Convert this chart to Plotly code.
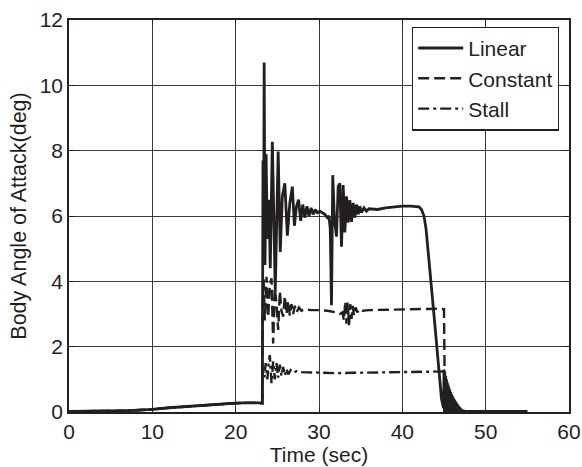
import plotly.graph_objects as go

# shared pre-jump segment (all three runs coincide)
t_pre = [0, 2, 5, 7, 8.5, 10, 12, 15, 17, 19, 20, 21, 22, 22.8, 23.15]
v_pre = [0.02, 0.02, 0.03, 0.04, 0.06, 0.08, 0.13, 0.19, 0.22, 0.25, 0.27, 0.28, 0.29, 0.28, 0.27]

t_linear = [23.20, 23.28, 23.35, 23.42, 23.52, 23.65, 23.80, 24.00, 24.15, 24.40, 24.75, 25.10,
            25.35, 25.60, 25.90, 26.20, 26.50, 26.80, 27.05, 27.30, 27.55, 27.80, 28.05, 28.30,
            28.55, 28.80, 29.05, 29.30, 29.55, 29.80, 30.10, 30.40, 30.70, 31.00, 31.20, 31.35,
            31.50, 31.65, 31.85, 32.10, 32.30, 32.50, 32.70, 32.90, 33.10, 33.30, 33.50, 33.70,
            33.90, 34.10, 34.30, 34.50, 34.70, 34.90, 35.10, 35.40, 35.70, 36.00, 37.0, 38.0,
            39.0, 40.0, 41.0, 42.0, 42.3, 42.6, 42.85, 43.1, 43.5, 44.0, 44.4, 44.7, 44.95,
            45.00, 45.05, 45.10, 45.15, 45.20, 45.25, 45.30, 45.35, 45.40, 45.45, 45.50, 45.55,
            45.60, 45.65, 45.70, 45.75, 45.80, 45.85, 45.90, 45.95, 46.00, 46.05, 46.10, 46.15,
            46.20, 46.25, 46.30, 46.35, 46.40, 46.45, 46.50, 46.55, 46.60, 46.65, 46.70, 46.75,
            46.80, 46.85, 46.90, 46.95, 47.00, 47.05, 47.10, 47.15, 47.20, 47.25, 47.30, 47.35,
            47.40, 47.50, 48.0, 50.0, 52.0, 55.0]
v_linear = [0.27, 7.7, 4.8, 10.7, 4.5, 7.9, 5.3, 6.5, 4.4, 8.27, 3.7, 7.97,
            4.9, 6.6, 7.0, 5.4, 6.4, 6.9, 5.7, 6.3, 6.5, 5.85, 6.35, 5.95,
            6.3, 6.0, 6.25, 6.05, 6.2, 6.1, 6.15, 6.1, 6.05, 5.95, 6.0, 5.6,
            3.27, 7.25, 5.9, 5.37, 6.9, 7.0, 5.06, 6.95, 5.5, 6.6, 5.8, 6.49,
            5.82, 6.4, 5.95, 6.35, 6.05, 6.3, 6.1, 6.25, 6.15, 6.22, 6.2, 6.25,
            6.28, 6.3, 6.3, 6.28, 6.2, 6.0, 5.6, 4.96, 3.8, 2.4, 1.25, 0.4, 0.12,
            1.30, 0.0, 1.20, 0.0, 1.10, 0.0, 1.00, 0.0, 0.91, 0.0, 0.83, 0.0,
            0.75, 0.0, 0.68, 0.0, 0.61, 0.0, 0.55, 0.0, 0.50, 0.0, 0.45, 0.0,
            0.40, 0.0, 0.36, 0.0, 0.32, 0.0, 0.28, 0.0, 0.24, 0.0, 0.20, 0.0,
            0.17, 0.0, 0.14, 0.0, 0.11, 0.0, 0.08, 0.0, 0.06, 0.0, 0.04, 0.0,
            0.03, 0.02, 0.02, 0.02, 0.02, 0.02]

t_constant = [23.20, 23.22, 23.35, 23.50, 23.70, 23.90, 24.10, 24.30, 24.50, 24.70, 24.90, 25.10,
              25.30, 25.50, 25.70, 25.90, 26.10, 26.30, 26.50, 26.70, 26.90, 27.10, 27.30, 27.60,
              27.90, 28.30, 29.0, 30.0, 31.0, 32.0, 32.5, 32.8, 33.00, 33.15, 33.30, 33.45,
              33.60, 33.75, 33.90, 34.05, 34.20, 34.40, 34.60, 34.80, 35.2, 36.0, 38.0, 40.0,
              42.0, 44.0, 45.0, 45.1, 45.3, 45.6, 47.0, 55.0]
v_constant = [0.27, 3.0, 4.1, 2.8, 4.14, 2.9, 3.9, 4.09, 2.1, 3.8, 3.3, 2.51,
              3.7, 3.1, 2.92, 3.55, 3.0, 3.4, 2.95, 3.3, 3.0, 3.25, 3.05, 3.2,
              3.1, 3.15, 3.12, 3.12, 3.1, 3.05, 3.0, 3.05, 2.8, 3.38, 2.7, 3.35,
              2.66, 3.3, 2.85, 3.25, 2.95, 3.2, 3.05, 3.15, 3.1, 3.12, 3.13, 3.15,
              3.15, 3.16, 3.15, 0.3, 0.1, 0.05, 0.02, 0.02]

t_stall = [23.20, 23.25, 23.45, 23.60, 23.80, 24.00, 24.10, 24.30, 24.50, 24.70, 24.90, 25.10,
           25.30, 25.50, 25.70, 25.90, 26.10, 26.30, 26.60, 26.90, 27.3, 28.0, 30.0, 32.0,
           34.0, 36.0, 38.0, 40.0, 42.0, 44.0, 45.05, 45.15, 45.4, 46.0, 47.0, 55.0]
v_stall = [0.27, 1.3, 1.06, 1.5, 1.0, 1.6, 1.74, 0.88, 1.55, 1.0, 1.5, 1.05,
           1.45, 1.1, 1.38, 1.12, 1.32, 1.15, 1.28, 1.2, 1.25, 1.22, 1.2, 1.19,
           1.2, 1.21, 1.22, 1.22, 1.23, 1.23, 1.24, 0.3, 0.1, 0.03, 0.02, 0.02]

x_ticks = [0, 10, 20, 30, 40, 50, 60]
y_ticks = [0, 2, 4, 6, 8, 10, 12]

INK = "#231f20"
FONT = "Liberation Sans, Arial, Helvetica, sans-serif"

fig = go.Figure()
fig.add_trace(go.Scatter(x=t_pre + t_linear, y=v_pre + v_linear, mode="lines", name="Linear",
                         line=dict(color=INK, width=2.8)))
fig.add_trace(go.Scatter(x=t_pre + t_constant, y=v_pre + v_constant, mode="lines", name="Constant",
                         line=dict(color=INK, width=2.4, dash="11px,5px")))
fig.add_trace(go.Scatter(x=t_pre + t_stall, y=v_pre + v_stall, mode="lines", name="Stall",
                         line=dict(color=INK, width=2.4, dash="11px,4px,3px,4px")))

axis_common = dict(showline=True, linecolor=INK, linewidth=1.5, mirror="ticks",
                   showgrid=True, gridcolor="#3a3a3a", gridwidth=1, zeroline=False,
                   ticks="inside", ticklen=5, tickcolor=INK, automargin=False,
                   tickfont=dict(family=FONT, size=21, color=INK))

fig.update_xaxes(range=[0, 60], tickvals=x_ticks, ticktext=[str(v) for v in x_ticks],
                 title=dict(text="Time (sec)", font=dict(family=FONT, size=21, color=INK), standoff=1),
                 **axis_common)
fig.update_yaxes(range=[0, 12], tickvals=y_ticks, ticktext=[str(v) for v in y_ticks],
                 title=dict(text="Body Angle of Attack(deg)", font=dict(family=FONT, size=21.5, color=INK), standoff=7),
                 **axis_common)

fig.update_layout(
    width=582, height=467,
    margin=dict(l=69, r=13, t=20, b=55),
    paper_bgcolor="white", plot_bgcolor="white",
    showlegend=True,
    legend=dict(x=0.686, y=0.983, xanchor="left", yanchor="top",
                bgcolor="white", bordercolor=INK, borderwidth=1.2,
                font=dict(family=FONT, size=21, color=INK),
                tracegroupgap=0, itemwidth=45),
)

fig.write_html("out.html")
